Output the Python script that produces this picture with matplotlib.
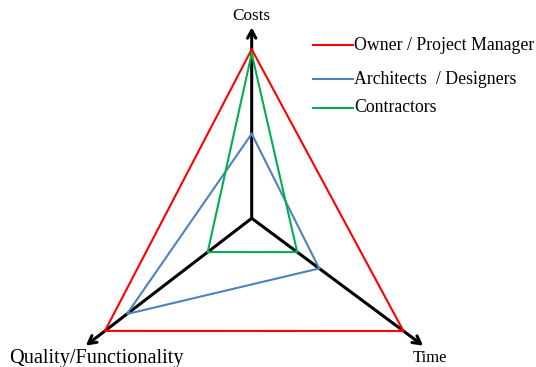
import numpy as np
import matplotlib
matplotlib.use("Agg")
import matplotlib.pyplot as plt
from matplotlib.lines import Line2D

# ---- data ----
axes_labels = ["Costs", "Time", "Quality/Functionality"]
series_names = ["Owner / Project Manager", "Architects  / Designers", "Contractors"]
owner = [10.0, 10.0, 10.0]
architects = [5.0, 4.45, 8.5]
contractors = [9.75, 3.0, 3.0]
axis_max = 11.3

# ---- layout ----
angles_deg = [90.0, -36.6, 217.5]       # direction of each axis
px_per_unit = [16.9, 18.9, 18.5]         # axis scale (schematic)
colors = ["#FF0000", "#4F81BD", "#00B050"]
W, H, DPI = 536, 367, 100
cx, cy = 251.7, 218.3                    # centre in pixels (from top-left)

plt.rcParams['font.family'] = ['Liberation Serif', 'DejaVu Serif']
fig = plt.figure(figsize=(W / DPI, H / DPI), dpi=DPI)
ax = fig.add_axes([0, 0, 1, 1])
ax.set_xlim(-cx, W - cx)
ax.set_ylim(-(H - cy), cy)
ax.set_aspect('equal')
ax.axis('off')

th = np.radians(angles_deg)
scale = np.array(px_per_unit)

def to_xy(vals):
    r = np.asarray(vals) * scale
    return r * np.cos(th), r * np.sin(th)

# axes with arrows
ax_x, ax_y = to_xy([axis_max] * 3)
for i in range(3):
    ax.annotate("", xy=(ax_x[i], ax_y[i]), xytext=(0, 0),
                arrowprops=dict(arrowstyle="->,head_length=0.55,head_width=0.3",
                                color="black", lw=2.2, shrinkA=0, shrinkB=0),
                zorder=1)

# series polygons
for vals, col in zip([owner, architects, contractors], colors):
    x, y = to_xy(vals)
    ax.plot(np.append(x, x[0]), np.append(y, y[0]), color=col, lw=1.5,
            solid_joinstyle='miter', zorder=2)

# axis labels
ax.text(251 - cx, cy - 16, axes_labels[0], ha='center', va='center', fontsize=12.3)
ax.text(430 - cx, cy - 358, axes_labels[1], ha='center', va='center', fontsize=12)
ax.text(96 - cx, cy - 358, axes_labels[2], ha='center', va='center', fontsize=14.6)

# legend (manual)
fs = 12.8
leg_y = [45, 79, 108]
for name, col, yy in zip(series_names, colors, leg_y):
    ax.add_line(Line2D([313 - cx, 353 - cx], [cy - yy, cy - yy], color=col, lw=1.5))
    ax.text(354 - cx, cy - yy, name, ha='left', va='center', fontsize=fs)

fig.savefig("out.png", dpi=DPI)
